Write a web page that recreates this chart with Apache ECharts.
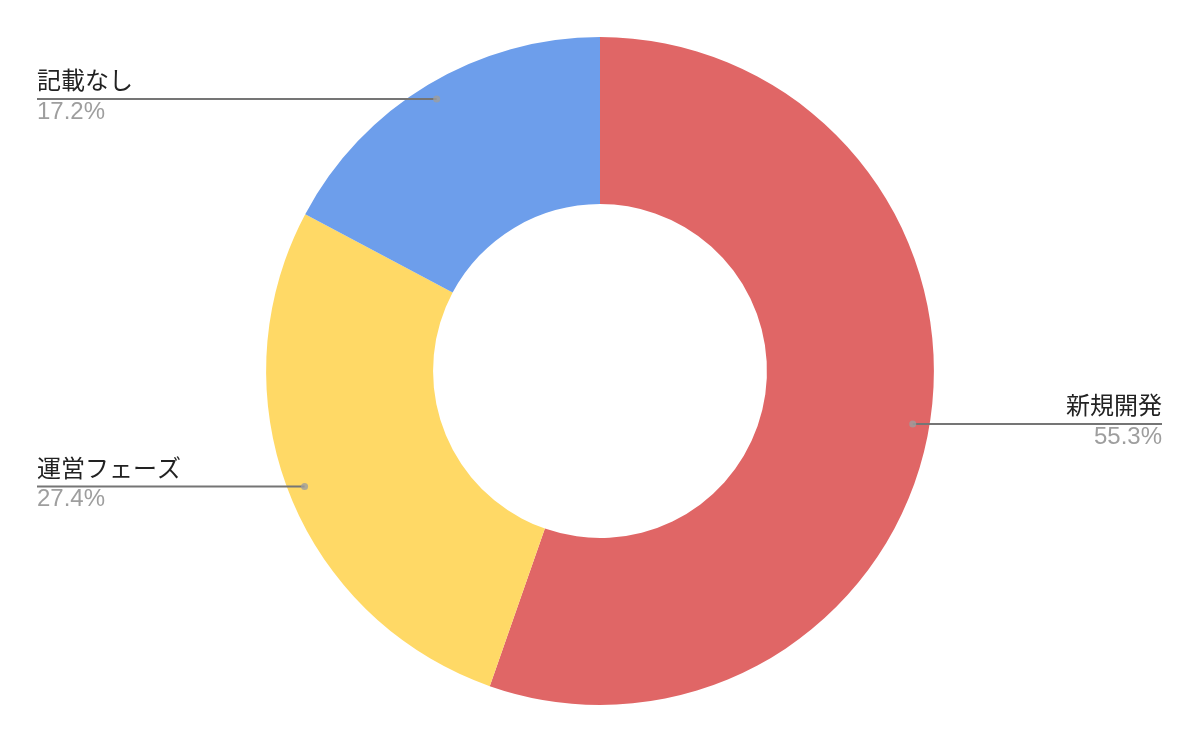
<!DOCTYPE html>
<html>
<head>
<meta charset="utf-8">
<script src="https://cdn.jsdelivr.net/npm/echarts@6/dist/echarts.min.js"></script>
<style>
html,body{margin:0;padding:0;background:#fff;}
#chart{width:1200px;height:742px;}
</style>
</head>
<body>
<div id="chart"></div>
<script>
const categories = ['新規開発', '運営フェーズ', '記載なし'];
const values = [55.3, 27.4, 17.2];
const colors = ['#e06666', '#ffd966', '#6d9eeb'];

const total = values.reduce((a, b) => a + b, 0);
const pieData = categories.map((c, i) => ({ name: c, value: values[i], itemStyle: { color: colors[i] } }));

// label anchor dots in polar coordinates (angle in percent of the circle)
const dotData = [];
let cum = 0;
values.forEach(v => { dotData.push([0.95, (cum + v / 2) / total * 100]); cum += v; });

const chart = echarts.init(document.getElementById('chart'), null, { renderer: 'canvas' });
const cjkFont = "'Noto Sans CJK JP', 'Noto Sans', sans-serif";
const numFont = "'Liberation Sans', Arial, sans-serif";

chart.setOption({
  backgroundColor: '#ffffff',
  animation: false,
  polar: { center: ['50%', '50%'], radius: '90%' },
  angleAxis: { type: 'value', min: 0, max: 100, startAngle: 90, clockwise: true, show: false },
  radiusAxis: { type: 'value', min: 0, max: 1, show: false },
  series: [
    {
      type: 'pie',
      center: ['50%', '50%'],
      radius: ['45%', '90%'],
      startAngle: 90,
      clockwise: true,
      silent: true,
      label: { show: false },
      labelLine: { show: false },
      data: pieData,
      z: 2
    },
    {
      type: 'pie',
      center: ['50%', '50%'],
      radius: ['0%', '85.5%'],
      startAngle: 90,
      clockwise: true,
      silent: true,
      itemStyle: { color: 'rgba(0,0,0,0)' },
      label: {
        show: true,
        position: 'outside',
        formatter: p => '{n|' + p.name + '}\n{p|' + p.value.toFixed(1) + '%}',
        rich: {
          n: { fontSize: 24, color: '#222222', lineHeight: 32, fontFamily: cjkFont },
          p: { fontSize: 24, color: '#9e9e9e', lineHeight: 32, fontFamily: numFont }
        }
      },
      labelLine: { show: true, length: 0, length2: 0, lineStyle: { color: '#757575', width: 2 } },
      labelLayout: function (params) {
        const pts = params.labelLinePoints;
        if (!pts) return {};
        const p0 = pts[0];
        const w = chart.getWidth();
        const left = p0[0] < w / 2;
        const ex = left ? 37 : w - 38;
        return {
          x: ex,
          y: p0[1] - 3,
          align: left ? 'left' : 'right',
          verticalAlign: 'middle',
          labelLinePoints: [[p0[0], p0[1]], [p0[0], p0[1]], [ex, p0[1]]]
        };
      },
      data: pieData.map(d => ({ name: d.name, value: d.value })),
      z: 3
    },
    {
      type: 'scatter',
      coordinateSystem: 'polar',
      symbol: 'circle',
      symbolSize: 7,
      silent: true,
      itemStyle: { color: '#9e9e9e' },
      data: dotData,
      z: 5
    }
  ]
});
</script>
</body>
</html>
